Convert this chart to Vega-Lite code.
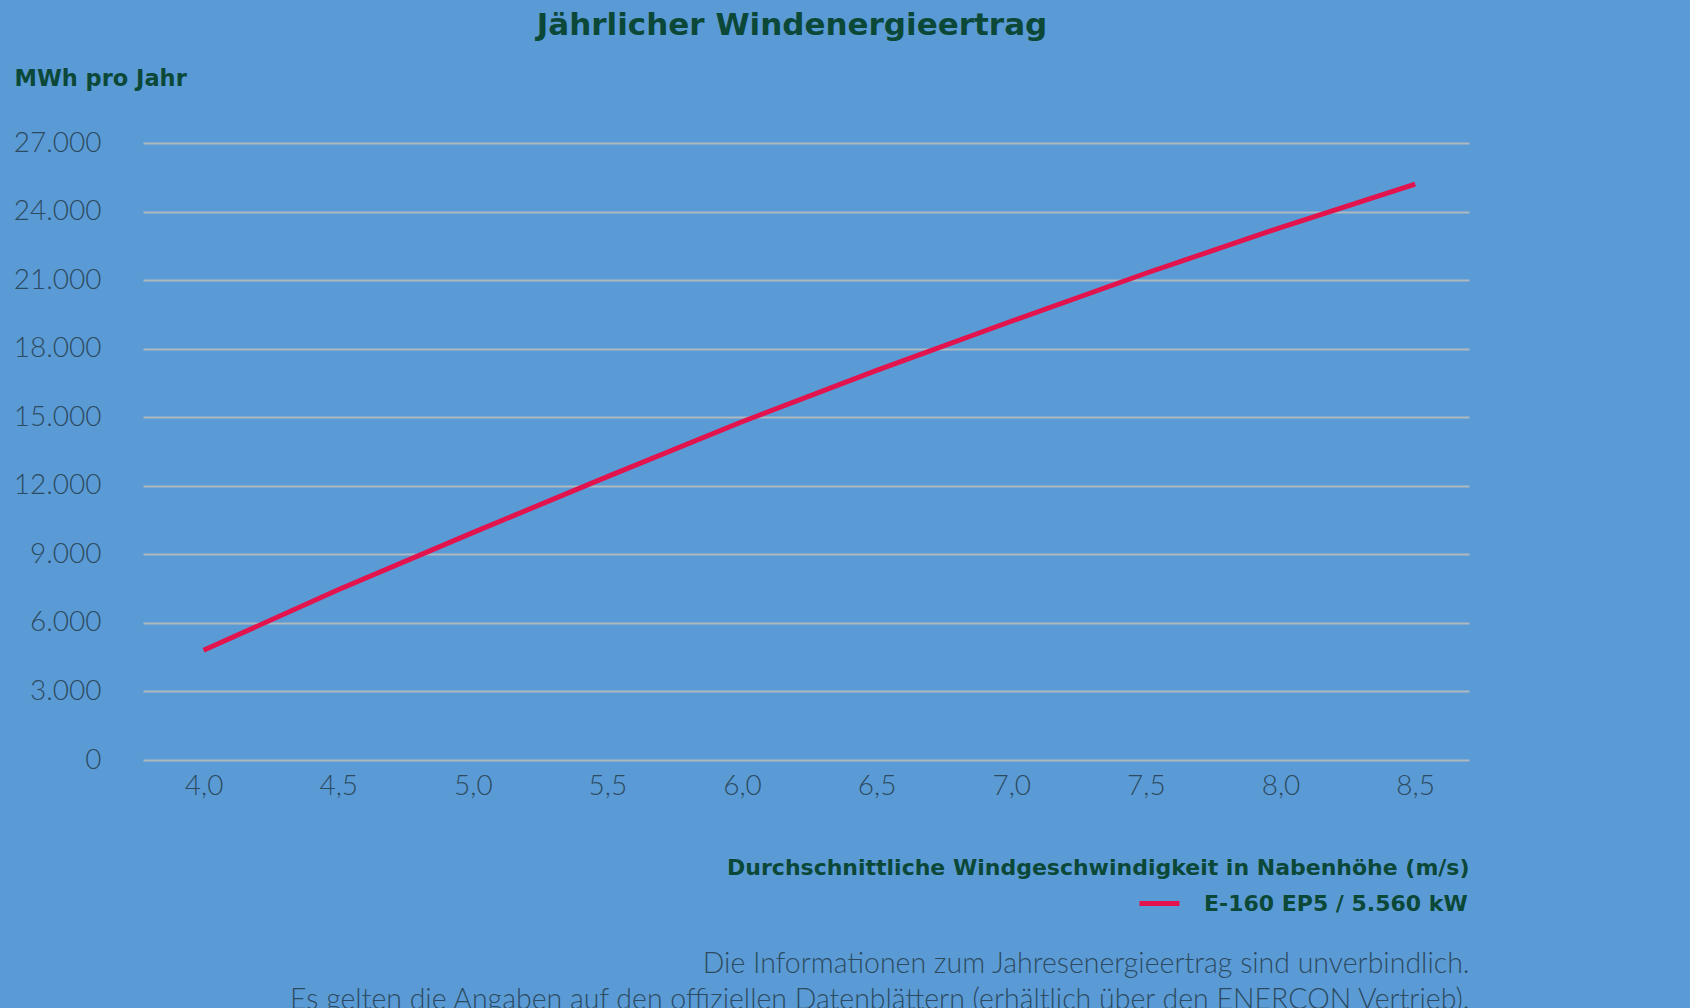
{
  "$schema": "https://vega.github.io/schema/vega-lite/v6.json",
  "width": 1326,
  "height": 617,
  "autosize": {"type": "none"},
  "padding": {"left": 143, "top": 143, "right": 221, "bottom": 248},
  "background": "#5B9BD5",
  "config": {"view": {"stroke": null}},
  "title": {
    "text": "Jährlicher Windenergieertrag",
    "anchor": "middle",
    "frame": "group",
    "font": "DejaVu Sans",
    "fontWeight": 700,
    "fontSize": 31,
    "color": "#0C4838",
    "dx": -14,
    "offset": 25
  },
  "data": {
    "values": [
      {"speed": 4.0, "mwh": 4800, "model": "E-160 EP5 / 5.560 kW"},
      {"speed": 4.5, "mwh": 7450, "model": "E-160 EP5 / 5.560 kW"},
      {"speed": 5.0, "mwh": 9950, "model": "E-160 EP5 / 5.560 kW"},
      {"speed": 5.5, "mwh": 12400, "model": "E-160 EP5 / 5.560 kW"},
      {"speed": 6.0, "mwh": 14800, "model": "E-160 EP5 / 5.560 kW"},
      {"speed": 6.5, "mwh": 17050, "model": "E-160 EP5 / 5.560 kW"},
      {"speed": 7.0, "mwh": 19200, "model": "E-160 EP5 / 5.560 kW"},
      {"speed": 7.5, "mwh": 21300, "model": "E-160 EP5 / 5.560 kW"},
      {"speed": 8.0, "mwh": 23300, "model": "E-160 EP5 / 5.560 kW"},
      {"speed": 8.5, "mwh": 25200, "model": "E-160 EP5 / 5.560 kW"}
    ]
  },
  "layer": [
    {
      "mark": {"type": "line", "strokeWidth": 5, "strokeCap": "butt"},
      "encoding": {
        "x": {
          "field": "speed",
          "type": "quantitative",
          "scale": {"domain": [3.775, 8.7], "nice": false, "zero": false},
          "axis": {
            "values": [4, 4.5, 5, 5.5, 6, 6.5, 7, 7.5, 8, 8.5],
            "labelExpr": "replace(format(datum.value, '.1f'), '.', ',')",
            "grid": false,
            "domain": false,
            "ticks": false,
            "labelFont": "Lato",
            "labelFontWeight": 300,
            "labelFontSize": 28,
            "labelColor": "#2C4B62",
            "labelPadding": 12,
            "title": "Durchschnittliche Windgeschwindigkeit in Nabenhöhe (m/s)",
            "titleFont": "DejaVu Sans",
            "titleFontWeight": 700,
            "titleFontSize": 22,
            "titleColor": "#0C4838",
            "titleAlign": "right",
            "titleAnchor": "end",
            "titleBaseline": "alphabetic",
            "titleX": 1326,
            "titleY": 114
          }
        },
        "y": {
          "field": "mwh",
          "type": "quantitative",
          "scale": {"domain": [0, 27000], "nice": false},
          "axis": {
            "values": [0, 3000, 6000, 9000, 12000, 15000, 18000, 21000, 24000, 27000],
            "labelExpr": "replace(format(datum.value, ','), ',', '.')",
            "grid": true,
            "gridColor": "#AEB8BF",
            "gridWidth": 2,
            "domain": false,
            "ticks": false,
            "labelFont": "Lato",
            "labelFontWeight": 300,
            "labelFontSize": 28,
            "labelColor": "#2C4B62",
            "labelPadding": 42,
            "title": "MWh pro Jahr",
            "titleFont": "DejaVu Sans",
            "titleFontWeight": 700,
            "titleFontSize": 22.5,
            "titleColor": "#0C4838",
            "titleAngle": 0,
            "titleAlign": "left",
            "titleAnchor": "start",
            "titleBaseline": "alphabetic",
            "titleX": -129,
            "titleY": -58
          }
        },
        "color": {
          "field": "model",
          "type": "nominal",
          "scale": {"domain": ["E-160 EP5 / 5.560 kW"], "range": ["#E2134D"]},
          "legend": {
            "orient": "none",
            "legendX": 994,
            "legendY": 738,
            "title": null,
            "padding": 0,
            "symbolType": "stroke",
            "symbolSize": 1600,
            "symbolStrokeWidth": 5,
            "labelOffset": 22,
            "labelLimit": 600,
            "labelFont": "DejaVu Sans",
            "labelFontWeight": 700,
            "labelFontSize": 22,
            "labelColor": "#0C4838"
          }
        }
      }
    },
    {
      "mark": {"type": "line", "strokeOpacity": 0},
      "encoding": {
        "x": {
          "field": "speed",
          "type": "quantitative",
          "axis": {
            "orient": "top",
            "labels": false,
            "ticks": false,
            "domain": false,
            "grid": false,
            "title": ["Die Informationen zum Jahresenergieertrag sind unverbindlich.", "Es gelten die Angaben auf den offiziellen Datenblättern (erhältlich über den ENERCON Vertrieb)."],
            "titleFont": "Lato",
            "titleFontWeight": 300,
            "titleFontSize": 28.5,
            "titleColor": "#2C4B62",
            "titleAlign": "right",
            "titleAnchor": "end",
            "titleBaseline": "alphabetic",
            "titleLineHeight": 36,
            "titleX": 1326,
            "titleY": 829
          }
        },
        "y": {"field": "mwh", "type": "quantitative"}
      }
    }
  ],
  "resolve": {"axis": {"x": "independent"}}
}
